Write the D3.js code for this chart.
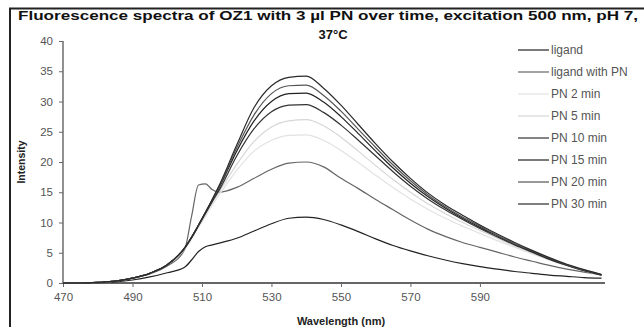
<!DOCTYPE html>
<html>
<head>
<meta charset="utf-8">
<script src="https://cdn.jsdelivr.net/npm/d3@7"></script>
<style>
  body { margin: 0; background: #fff; }
  svg { display: block; font-family: Arial, "Liberation Sans", sans-serif; }
</style>
</head>
<body>
<svg id="chart" width="644" height="327"></svg>
<script>
// wavelengths (nm) – extra points around the 505-515 bump
const wavelengths = [470, 475, 480, 485, 490, 495, 500, 505, 507, 509, 511, 513, 515, 520, 525, 530, 535, 540, 545, 550, 555, 560, 565, 570, 575, 580, 585, 590, 595, 600, 605, 610, 615, 620, 625];

const ligand       = [0, 0, 0.05, 0.2, 0.5, 1.0, 1.7, 2.6, 3.8, 5.2, 6.0, 6.3, 6.6, 7.4, 8.6, 9.8, 10.7, 10.9, 10.5, 9.6, 8.5, 7.3, 6.2, 5.3, 4.5, 3.8, 3.2, 2.7, 2.3, 1.9, 1.6, 1.3, 1.1, 0.9, 0.8];
const ligandWithPN = [0, 0, 0.1, 0.3, 0.8, 1.5, 2.8, 5.5, 11.0, 16.2, 16.4, 15.4, 15.0, 15.8, 17.3, 18.8, 19.8, 20.0, 19.2, 17.3, 15.6, 13.8, 12.1, 10.4, 8.9, 7.7, 6.7, 5.9, 5.1, 4.3, 3.6, 2.9, 2.3, 1.8, 1.4];
const pn2          = [0, 0, 0.1, 0.3, 0.8, 1.6, 3.0, 5.6, 7.3, 9.2, 11.0, 12.9, 14.6, 18.6, 21.8, 23.6, 24.4, 24.5, 23.6, 21.9, 19.9, 17.8, 15.8, 13.9, 12.2, 10.7, 9.4, 8.2, 7.0, 5.9, 4.8, 3.8, 2.9, 2.0, 1.3];
const pn5          = [0, 0, 0.1, 0.3, 0.8, 1.6, 3.0, 5.7, 7.4, 9.4, 11.3, 13.3, 15.1, 19.6, 23.4, 25.8, 26.8, 27.0, 26.0, 24.1, 21.8, 19.4, 17.1, 15.0, 13.1, 11.5, 10.0, 8.7, 7.4, 6.1, 5.0, 3.9, 2.9, 2.0, 1.3];
const pn10         = [0, 0, 0.1, 0.3, 0.8, 1.6, 3.0, 5.7, 7.5, 9.5, 11.5, 13.5, 15.4, 21.0, 25.5, 28.3, 29.4, 29.5, 28.2, 26.1, 23.6, 21.0, 18.4, 16.0, 13.9, 12.1, 10.5, 9.0, 7.6, 6.3, 5.1, 3.9, 2.9, 2.0, 1.3];
const pn15         = [0, 0, 0.1, 0.3, 0.8, 1.6, 3.0, 5.8, 7.5, 9.5, 11.6, 13.7, 15.8, 21.8, 26.8, 30.0, 31.3, 31.4, 29.9, 27.5, 24.7, 21.8, 19.0, 16.5, 14.3, 12.4, 10.7, 9.2, 7.8, 6.4, 5.2, 4.0, 3.0, 2.1, 1.3];
const pn20         = [0, 0, 0.1, 0.3, 0.8, 1.6, 3.0, 5.8, 7.6, 9.6, 11.7, 13.8, 16.0, 22.3, 27.8, 31.3, 32.6, 32.7, 31.0, 28.4, 25.4, 22.4, 19.5, 16.9, 14.6, 12.6, 10.9, 9.4, 7.9, 6.5, 5.3, 4.1, 3.0, 2.1, 1.4];
const pn30         = [0, 0, 0.1, 0.3, 0.8, 1.6, 3.0, 5.8, 7.6, 9.6, 11.7, 13.9, 16.2, 22.8, 29.0, 32.6, 34.0, 34.2, 32.2, 29.4, 26.2, 23.0, 20.0, 17.3, 14.9, 12.9, 11.2, 9.6, 8.1, 6.7, 5.4, 4.2, 3.1, 2.2, 1.4];

const seriesNames = ["ligand", "ligand with PN", "PN 2 min", "PN 5 min", "PN 10 min", "PN 15 min", "PN 20 min", "PN 30 min"];
const seriesValues = [ligand, ligandWithPN, pn2, pn5, pn10, pn15, pn20, pn30];
const seriesColors = ["#222", "#666", "#e2e2e2", "#d6d6d6", "#333", "#222", "#555", "#2a2a2a"];

const xTicks = [470, 490, 510, 530, 550, 570, 590];
const yTicks = [0, 5, 10, 15, 20, 25, 30, 35, 40];

const svg = d3.select("#chart");

// outer frame (left + top edges visible)
svg.append("path")
  .attr("d", "M10,327 L10,8.5 L644,8.5")
  .attr("fill", "none")
  .attr("stroke", "#222")
  .attr("stroke-width", 2);

const x = d3.scaleLinear().domain([470, 626]).range([63, 605]);
const y = d3.scaleLinear().domain([0, 40]).range([283, 41]);

// title (stretched to the width used in the picture)
svg.append("text")
  .attr("x", 18).attr("y", 20)
  .attr("font-size", 13).attr("font-weight", "bold")
  .attr("fill", "#111")
  .attr("textLength", 620).attr("lengthAdjust", "spacingAndGlyphs")
  .text("Fluorescence spectra of OZ1 with 3 µl PN over time, excitation 500 nm, pH 7,");
svg.append("text")
  .attr("x", 333).attr("y", 39)
  .attr("text-anchor", "middle")
  .attr("font-size", 13).attr("font-weight", "bold")
  .attr("fill", "#111")
  .text("37°C");

// axes
const xAxis = d3.axisBottom(x).tickValues(xTicks).tickSize(4).tickPadding(6).tickFormat(d3.format("d"));
const yAxis = d3.axisLeft(y).tickValues(yTicks).tickSize(4).tickPadding(6);

const gx = svg.append("g").attr("transform", "translate(0,283)").call(xAxis);
gx.select(".domain").remove();
gx.append("line").attr("x1", 63).attr("x2", 605).attr("stroke", "#666").attr("stroke-width", 2);

const gy = svg.append("g").attr("transform", "translate(63,0)").call(yAxis);
gy.select(".domain").attr("stroke", "#555").attr("stroke-width", 1.3).attr("d", "M0,41V283");

svg.selectAll(".tick line").attr("stroke", "#666");
svg.selectAll(".tick text").attr("font-size", 11.5).attr("fill", "#555").attr("font-family", "Arial, 'Liberation Sans', sans-serif");

// axis titles
svg.append("text")
  .attr("transform", "translate(25,162) rotate(-90)")
  .attr("text-anchor", "middle")
  .attr("font-size", 10.5).attr("font-weight", "bold")
  .attr("fill", "#222")
  .text("Intensity");
svg.append("text")
  .attr("x", 341).attr("y", 325)
  .attr("text-anchor", "middle")
  .attr("font-size", 11).attr("font-weight", "bold")
  .attr("fill", "#222")
  .text("Wavelength (nm)");

// lines
const line = d3.line()
  .x((d, i) => x(wavelengths[i]))
  .y(d => y(d))
  .curve(d3.curveMonotoneX);

svg.append("g").selectAll("path")
  .data(seriesValues)
  .enter()
  .append("path")
  .attr("fill", "none")
  .attr("stroke", (d, i) => seriesColors[i])
  .attr("stroke-width", 1.2)
  .attr("d", line);

// legend
const legend = svg.append("g").selectAll("g")
  .data(seriesNames)
  .enter()
  .append("g")
  .attr("transform", (d, i) => "translate(518," + (50 + i * 22) + ")");
legend.append("line")
  .attr("x1", 0).attr("x2", 31)
  .attr("stroke", (d, i) => seriesColors[i])
  .attr("stroke-width", 1.2);
legend.append("text")
  .attr("x", 33).attr("y", 4)
  .attr("font-size", 12).attr("fill", "#555")
  .text(d => d);
</script>
</body>
</html>
